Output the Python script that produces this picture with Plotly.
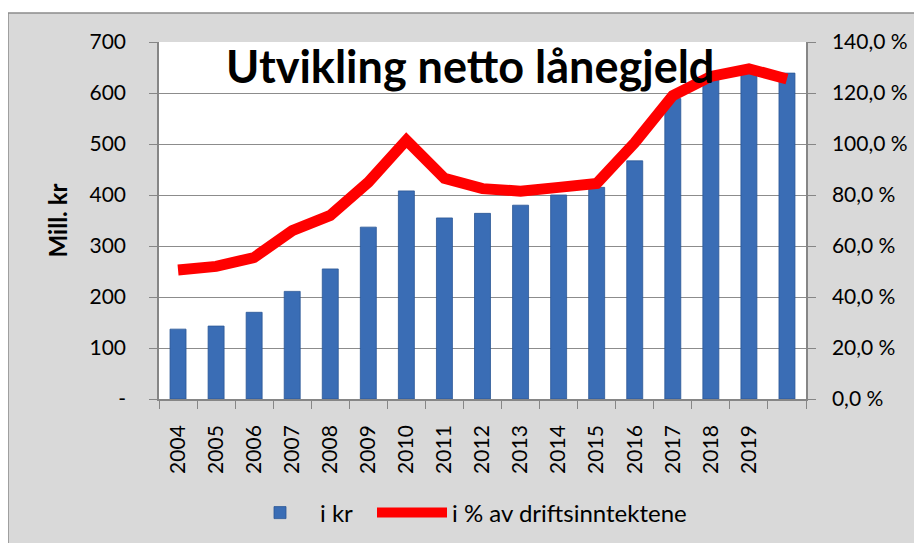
import plotly.graph_objects as go

years = [str(y) for y in range(2004, 2021)]
x_tick_labels = [str(y) for y in range(2004, 2020)] + [""]
kr_values = [137, 143, 170, 211, 255, 337, 408, 355, 364, 380, 400, 415, 467, 589, 631, 640, 639]
pct_values = [50.6, 52.0, 55.5, 66.0, 72.0, 85.0, 101.5, 86.5, 82.5, 81.5, 83.0, 84.5, 100.5, 119.0, 126.5, 129.5, 125.5]
y_tickvals = [0, 100, 200, 300, 400, 500, 600, 700]
y_ticktext = ["-", "100", "200", "300", "400", "500", "600", "700"]
y2_tickvals = [0, 20, 40, 60, 80, 100, 120, 140]
y2_ticktext = ["0,0 %", "20,0 %", "40,0 %", "60,0 %", "80,0 %", "100,0 %", "120,0 %", "140,0 %"]

FONT = "Lato"
OFF = 8  # page body margin
W, H = 922, 543
# plot area in screen pixels
SL, SR, ST, SB = 159, 806, 42, 399
L, T = SL - OFF, ST - OFF
R = W - (SR - OFF)
B = H - (SB - OFF)
pw, ph = W - L - R, H - T - B


def px_x(p):  # screen px -> paper
    return (p - SL) / pw


def px_y(p):
    return (SB - p) / ph


fig = go.Figure()
fig.add_trace(go.Bar(
    x=years, y=kr_values, name="i kr", width=0.42,
    marker=dict(color="#3a6db5", line=dict(color="#2b5795", width=0.8)),
    yaxis="y", legend="legend",
))
fig.add_trace(go.Scatter(
    x=years, y=pct_values, name="i % av driftsinntektene", mode="lines",
    line=dict(color="#ff0000", width=11),
    yaxis="y2", legend="legend2",
))

legend_common = dict(orientation="h", xanchor="left", y=px_y(513), yanchor="middle",
                     font=dict(family=FONT, size=24), bgcolor="rgba(0,0,0,0)", itemwidth=70)

fig.update_layout(
    width=W, height=H,
    margin=dict(l=L, r=R, t=T, b=B, autoexpand=False),
    paper_bgcolor="white",
    plot_bgcolor="white",
    font=dict(family=FONT, size=21, color="black"),
    showlegend=True,
    legend=dict(x=px_x(240), **legend_common),
    legend2=dict(x=px_x(372), **legend_common),
    shapes=[
        dict(type="rect", xref="paper", yref="paper", layer="below",
             x0=px_x(OFF), x1=px_x(W + 20), y0=px_y(H + 20), y1=px_y(13),
             fillcolor="#d9d9d9", line=dict(color="#8c8c8c", width=1.5)),
        dict(type="rect", xref="paper", yref="paper", layer="below",
             x0=0, x1=1, y0=0, y1=1, fillcolor="white", line=dict(width=0)),
    ],
    annotations=[
        dict(text="<b>Utvikling netto lånegjeld</b>", xref="paper", yref="paper",
             x=px_x(470), y=px_y(66), xanchor="center", yanchor="middle", showarrow=False,
             font=dict(family=FONT, size=45, color="black")),
    ],
    xaxis=dict(
        type="category", tickmode="array", tickvals=years, ticktext=x_tick_labels,
        tickangle=-90, tickson="boundaries", ticks="outside", ticklen=8, tickcolor="#868686",
        showline=True, linecolor="#868686", linewidth=1.5, showgrid=False,
        tickfont=dict(family=FONT, size=21), ticklabelstandoff=16,
    ),
    yaxis=dict(
        range=[0, 700], tickmode="array", tickvals=y_tickvals, ticktext=y_ticktext,
        ticks="outside", ticklen=8, tickcolor="#868686",
        showline=True, linecolor="#868686", linewidth=1.5,
        showgrid=True, gridcolor="#8c8c8c", gridwidth=1.2, zeroline=False,
        tickfont=dict(family=FONT, size=21), ticklabelstandoff=19,
        title=dict(text="<b>Mill. kr</b>", font=dict(family=FONT, size=24), standoff=15),
    ),
    yaxis2=dict(
        range=[0, 140], overlaying="y", side="right", tickmode="array",
        tickvals=y2_tickvals, ticktext=y2_ticktext,
        ticks="outside", ticklen=8, tickcolor="#868686",
        showline=True, linecolor="#868686", linewidth=1.5, showgrid=False, zeroline=False,
        tickfont=dict(family=FONT, size=21), ticklabelstandoff=12,
    ),
    bargap=0.58,
)

fig.write_html("out.html")
